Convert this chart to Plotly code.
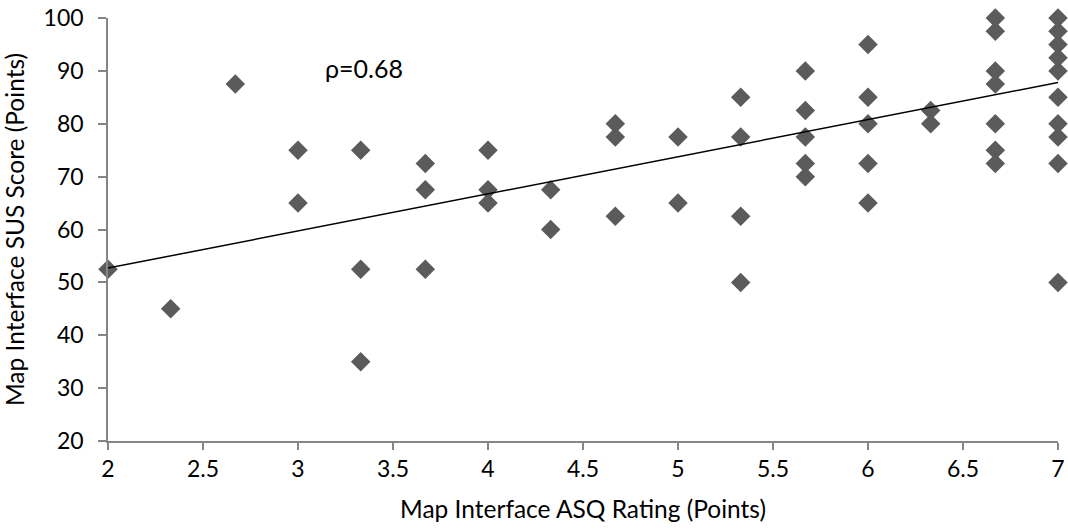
import plotly.graph_objects as go

# Map Interface ASQ Rating (x) and SUS Score (y)
asq_levels = [2, 2.33, 2.67, 3, 3.33, 3.67, 4, 4.33, 4.67, 5, 5.33, 5.67, 6, 6.33, 6.67, 7]
sus_scores = [
    [52.5],
    [45],
    [87.5],
    [75, 65],
    [75, 52.5, 35],
    [72.5, 67.5, 52.5],
    [75, 67.5, 65],
    [67.5, 60],
    [80, 77.5, 62.5],
    [77.5, 65],
    [85, 77.5, 62.5, 50],
    [90, 82.5, 77.5, 72.5, 70],
    [95, 85, 80, 72.5, 65],
    [82.5, 80],
    [100, 97.5, 90, 87.5, 80, 75, 72.5],
    [100, 97.5, 95, 92.5, 90, 85, 80, 77.5, 72.5, 50],
]
# linear trendline endpoints
trend_x = [2, 7]
trend_y = [52.7, 87.8]
x_ticks = [2, 2.5, 3, 3.5, 4, 4.5, 5, 5.5, 6, 6.5, 7]
y_ticks = [20, 30, 40, 50, 60, 70, 80, 90, 100]
rho_label = "ρ=0.68"
rho_pos = (3.13, 90.6)

xs, ys = [], []
for lv, scores in zip(asq_levels, sus_scores):
    for s in scores:
        xs.append(lv)
        ys.append(s)

FONT = "Lato, 'Open Sans', sans-serif"
AX = "#868686"

fig = go.Figure()
fig.add_trace(go.Scatter(
    x=xs, y=ys, mode="markers",
    marker=dict(symbol="diamond", size=15, color="#5b5b5b", line=dict(width=0)),
    showlegend=False, cliponaxis=False,
))
fig.add_trace(go.Scatter(
    x=trend_x, y=trend_y, mode="lines",
    line=dict(color="black", width=1.5),
    showlegend=False, cliponaxis=False,
))
fig.add_annotation(
    x=rho_pos[0], y=rho_pos[1], xref="x", yref="y", text=rho_label, showarrow=False,
    xanchor="left", yanchor="middle", font=dict(family=FONT, size=25, color="black"),
)

fig.update_layout(
    template="none",
    width=1068, height=531,
    margin=dict(l=108, r=10, t=18, b=90),
    paper_bgcolor="white", plot_bgcolor="white",
    font=dict(family=FONT, size=24, color="black"),
    xaxis=dict(
        range=[2, 7], tickvals=x_ticks, ticktext=[f"{v:g}" for v in x_ticks],
        showgrid=False, zeroline=False, showline=True, linecolor=AX, linewidth=1.5,
        ticks="outside", ticklen=7, tickcolor=AX, tickwidth=1.5, automargin=False,
        ticklabeloverflow="allow",
        tickfont=dict(size=23), title=dict(text="Map Interface ASQ Rating (Points)", font=dict(size=24.5), standoff=20),
    ),
    yaxis=dict(
        range=[20, 100], tickvals=y_ticks, automargin=False,
        showgrid=False, zeroline=False, showline=True, linecolor=AX, linewidth=1.5,
        ticks="outside", ticklen=8, tickcolor=AX, tickwidth=1.5, ticklabelstandoff=10,
        ticklabeloverflow="allow",
        tickfont=dict(size=23), title=dict(text="Map Interface SUS Score (Points)", font=dict(size=24.5), standoff=13),
    ),
)

fig.write_html(
    "out.html",
    config={"displayModeBar": False},
    post_script="document.body.style.margin='0';document.body.style.overflow='hidden';",
)
